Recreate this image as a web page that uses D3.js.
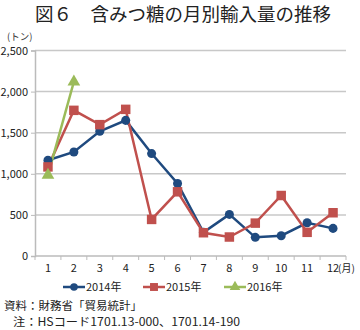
<!DOCTYPE html>
<html><head><meta charset="utf-8">
<script src="https://cdn.jsdelivr.net/npm/d3@7"></script>
<style>body{margin:0;background:#fff}svg{display:block}text{font-family:"Noto Sans CJK JP","Noto Sans",sans-serif}</style>
</head><body>
<script>
const months = [1,2,3,4,5,6,7,8,9,10,11,12];
const s2014 = [1165,1266,1517,1650,1246,882,288,506,227,247,404,336];
const s2015 = [1084,1772,1598,1784,445,781,283,231,400,736,288,526];
const s2016 = [983,2120];
const yTicks = [0,500,1000,1500,2000,2500];
const seriesNames = ["2014年","2015年","2016年"];
const colors = ["#1f4a7f","#c0504d","#9bbb59"];

const W=360,H=330;
const svg=d3.select("body").append("svg").attr("width",W).attr("height",H);
const x=d3.scaleBand().domain(months).range([35,346]);
const y=d3.scaleLinear().domain([0,2500]).range([256,50.5]);

svg.append("text").attr("x",183).attr("y",21).attr("text-anchor","middle")
  .attr("font-size",18.5).attr("fill","#222").text("図６　含みつ糖の月別輸入量の推移");
svg.append("text").attr("x",7).attr("y",40).attr("font-size",9.5).attr("fill","#333").text("(トン)");

// grid
svg.append("g").selectAll("line").data(yTicks.slice(1)).join("line")
  .attr("x1",35).attr("x2",346).attr("y1",d=>y(d)).attr("y2",d=>y(d))
  .attr("stroke","#c8c8c8").attr("stroke-width",1.5);

const ya=svg.append("g").attr("transform","translate(35,0)")
  .call(d3.axisLeft(y).tickValues(yTicks).tickFormat(d3.format(",")).tickSize(4).tickPadding(3));
ya.select(".domain").attr("stroke","#bbb").attr("stroke-width",1.5);
ya.selectAll(".tick line").attr("stroke","#bbb");
ya.selectAll("text").attr("font-size",11).attr("fill","#222").attr("font-family","Liberation Sans, Arial, sans-serif");

const xa=svg.append("g").attr("transform","translate(0,256)");
xa.append("line").attr("x1",35).attr("x2",346).attr("stroke","#bbb").attr("stroke-width",1.5);
xa.selectAll("line.t").data(d3.range(13)).join("line").attr("class","t")
  .attr("x1",i=>35+i*x.step()).attr("x2",i=>35+i*x.step()).attr("y1",0).attr("y2",4).attr("stroke","#bbb");
xa.selectAll("text").data(months).join("text")
  .attr("x",d=>x(d)+x.bandwidth()/2).attr("y",16).attr("text-anchor","middle")
  .attr("font-size",11).attr("fill","#222").attr("font-family","Liberation Sans, Arial, sans-serif").text(d=>d);
svg.append("text").attr("x",338).attr("y",272).attr("font-size",10).attr("fill","#222").text("(月)");

const cx=d=>x(d)+x.bandwidth()/2;
const line=d3.line().x((v,i)=>cx(months[i])).y(v=>y(v));
const data=[s2014,s2015,s2016];
const shapes=[d3.symbolCircle,d3.symbolSquare,d3.symbolTriangle];
const sizes=[64,90,70];
data.forEach((s,k)=>{
  svg.append("path").attr("d",line(s)).attr("fill","none").attr("stroke",colors[k]).attr("stroke-width",2.5);
});
data.forEach((s,k)=>{
  svg.append("g").selectAll("path").data(s).join("path")
    .attr("transform",(v,i)=>`translate(${cx(months[i])},${y(v)})`)
    .attr("d",d3.symbol().type(shapes[k]).size(sizes[k])).attr("fill",colors[k]);
});

// legend
const lx=[63,143,224];
seriesNames.forEach((n,k)=>{
  const g=svg.append("g").attr("transform",`translate(${lx[k]},287)`);
  g.append("line").attr("x1",0).attr("x2",22).attr("stroke",colors[k]).attr("stroke-width",2.5);
  g.append("path").attr("transform","translate(11,0)").attr("d",d3.symbol().type(shapes[k]).size(sizes[k]*0.7)).attr("fill",colors[k]);
  g.append("text").attr("x",23).attr("y",4).attr("font-size",11).attr("fill","#222").text(n);
});

svg.append("text").attr("x",4).attr("y",310).attr("font-size",11.5).attr("fill","#222").text("資料：財務省「貿易統計」");
svg.append("text").attr("x",13).attr("y",326).attr("font-size",11.5).attr("fill","#222")
  .attr("textLength",227).attr("lengthAdjust","spacingAndGlyphs").text("注：HSコード1701.13-000、1701.14-190");
</script>
</body></html>
